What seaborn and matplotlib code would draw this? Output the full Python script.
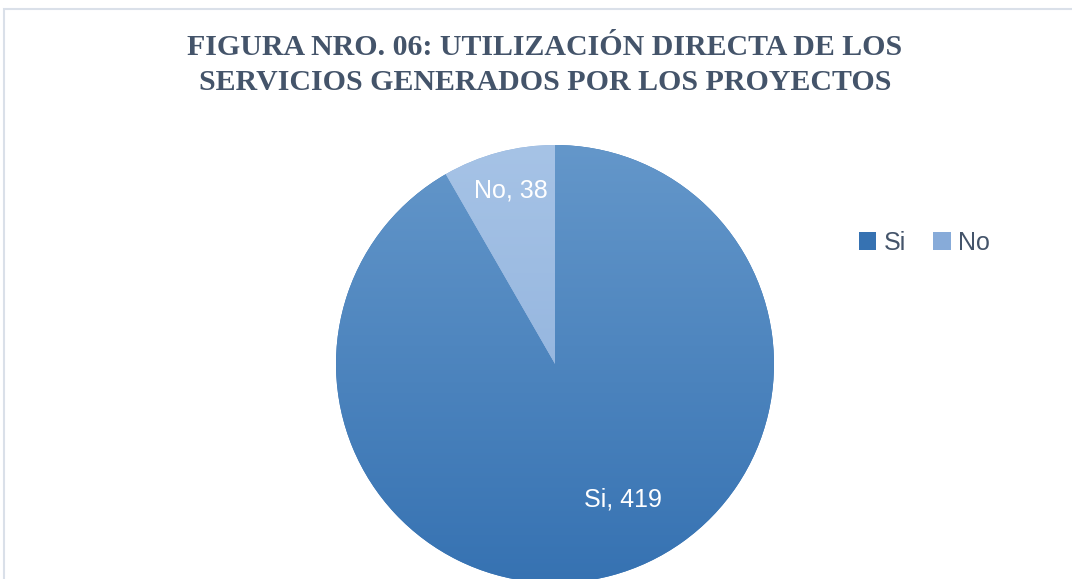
import numpy as np
import matplotlib
matplotlib.use("Agg")
import matplotlib.pyplot as plt
from matplotlib.colors import LinearSegmentedColormap
from matplotlib.patches import Patch, Rectangle
import seaborn as sns

# data
categories = ["Si", "No"]
values = [419, 38]
top_colors = ["#6497CA", "#A6C3E6"]
bottom_colors = ["#3672B2", "#87ABD9"]
title = "FIGURA NRO. 06: UTILIZACIÓN DIRECTA DE LOS\nSERVICIOS GENERADOS POR LOS PROYECTOS"

sns.set_theme(style="white")
plt.rcParams["font.family"] = ["Liberation Sans", "DejaVu Sans"]

W, H = 1072, 579
fig = plt.figure(figsize=(W / 100, H / 100), dpi=100)

# chart-area border
fig.patches.append(Rectangle((4 / W, -0.1), 1.2, 1.1 - 9.5 / H, transform=fig.transFigure,
                             fill=False, edgecolor="#DAE0E9", linewidth=1.5))

cx, cy, r = 555, 364, 219
ax = fig.add_axes([(cx - r) / W, (H - cy - r) / H, 2 * r / W, 2 * r / H])

wedges, _ = ax.pie(values, startangle=90, counterclock=False, radius=1,
                   colors=bottom_colors, wedgeprops=dict(linewidth=0))
ax.set_xlim(-1, 1)
ax.set_ylim(-1, 1)
ax.axis("off")

# gradient fill per slice
for w, c0, c1 in zip(wedges, top_colors, bottom_colors):
    cmap = LinearSegmentedColormap.from_list("g", [c1, c0])
    grad = np.linspace(1, 0, 256).reshape(-1, 1)
    im = ax.imshow(grad, cmap=cmap, extent=(-1, 1, -1, 1), aspect="auto",
                   origin="upper", zorder=2, vmin=0, vmax=1)
    im.set_clip_path(w)

# data labels
label_pos = {"Si": (0.31, -0.62), "No": (-0.2, 0.79)}
for cat, val in zip(categories, values):
    x, y = label_pos[cat]
    ax.text(x, y, f"{cat}, {val}", color="white", fontsize=18, ha="center", va="center",
            zorder=5)

fig.suptitle(title, x=545 / W, y=1 - 34 / H, va="top", fontsize=21.5, fontweight="bold",
             family=["Liberation Serif", "DejaVu Serif"], color="#44546A", linespacing=1.4)

handles = [Patch(facecolor=c, edgecolor="none") for c in bottom_colors]
fig.legend(handles, categories, loc="center left", bbox_to_anchor=(836 / W, 1 - 243 / H),
           ncol=2, frameon=False, fontsize=18, handlelength=0.7, handleheight=0.7,
           handletextpad=0.3, columnspacing=1.1, labelcolor="#44546A")

fig.savefig("out.png", dpi=100)
